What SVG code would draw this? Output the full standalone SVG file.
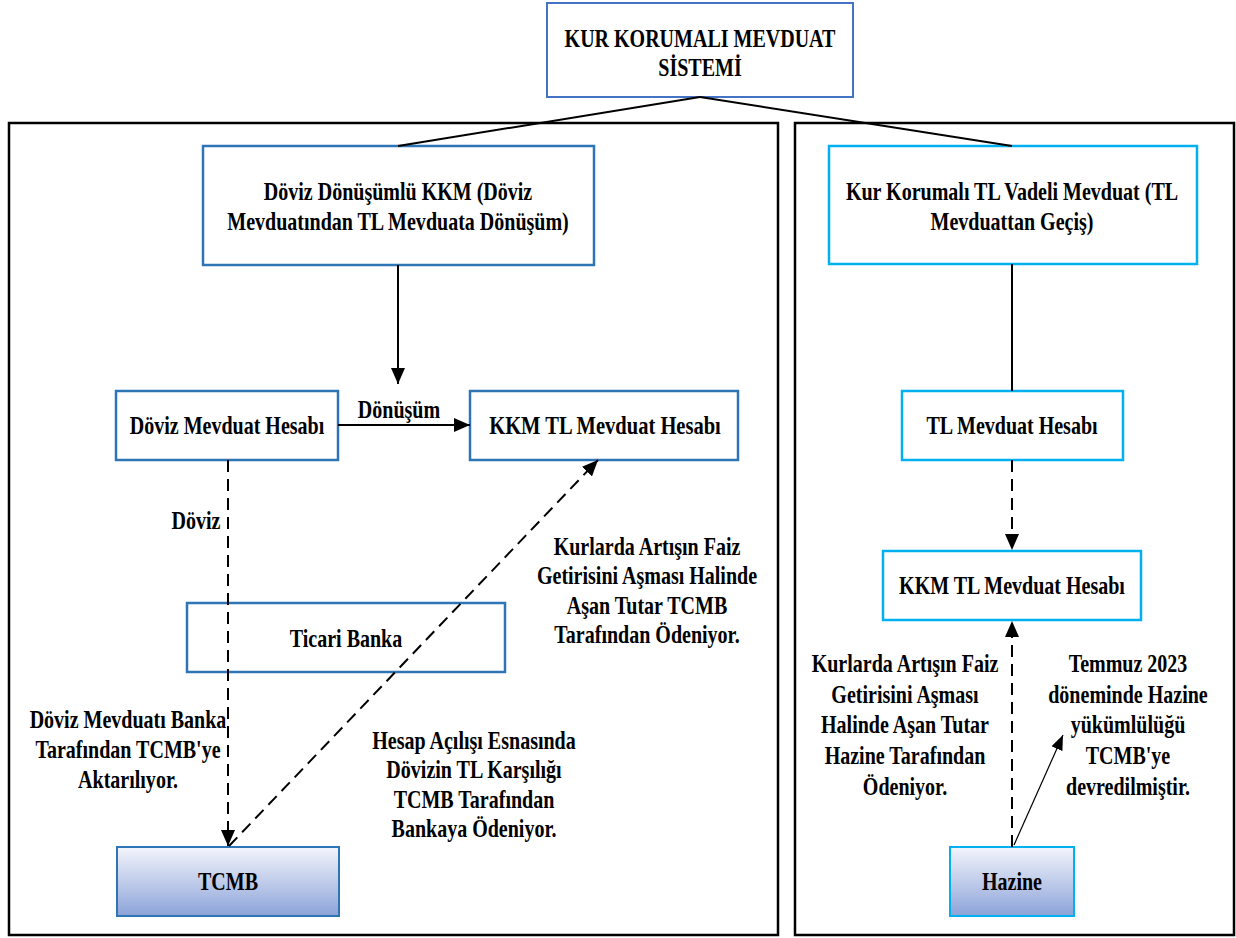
<svg xmlns="http://www.w3.org/2000/svg" width="1236" height="938" viewBox="0 0 1236 938">
<style>
.t{font-family:"Liberation Serif","Times New Roman",serif;font-weight:bold;font-size:26px;text-anchor:middle;fill:#000}
.frame{fill:none;stroke:#000;stroke-width:2.5}
.bb{fill:#fff;stroke:#2E75B6;stroke-width:2.5}
.bn{fill:none;stroke:#2E75B6;stroke-width:2.5}
.bt{fill:#fff;stroke:#4472C4;stroke-width:2}
.bc{fill:#fff;stroke:#00B0F0;stroke-width:2.5}
.gb{fill:url(#g);stroke:#2E75B6;stroke-width:2}
.gc{fill:url(#g);stroke:#00B0F0;stroke-width:2}
.ln{fill:none;stroke:#000;stroke-width:2}
.ds{fill:none;stroke:#000;stroke-width:2;stroke-dasharray:12 7}
.thin{fill:none;stroke:#000;stroke-width:1.2}
</style>
<defs>
<linearGradient id="g" x1="0" y1="0" x2="0" y2="1">
<stop offset="0" stop-color="#F4F5FC"/>
<stop offset="1" stop-color="#8CA3D8"/>
</linearGradient>
<marker id="ah" markerUnits="userSpaceOnUse" markerWidth="17" markerHeight="14" refX="16" refY="7" orient="auto">
<path d="M0,0 L16,7 L0,14 Z" fill="#000"/>
</marker>
<marker id="ahs" markerUnits="userSpaceOnUse" markerWidth="16" markerHeight="12" refX="15" refY="6" orient="auto">
<path d="M0,0 L15,6 L0,12 Z" fill="#000"/>
</marker>
</defs>
<rect width="1236" height="938" fill="#fff"/>
<g id="frames">
<rect class="frame" x="9" y="123" width="769" height="812"/>
<rect class="frame" x="795" y="123" width="439" height="812"/>
</g>
<g id="title">
<rect class="bt" x="547" y="3" width="306" height="94"/>
<text class="t" transform="translate(700,0) scale(0.77,1)" x="0" y="47">KUR KORUMALI MEVDUAT<tspan x="0" dy="29">SİSTEMİ</tspan></text>
</g>
<g id="doviz-donusumlu">
<rect class="bb" x="203" y="146" width="391" height="119"/>
<text class="t" transform="translate(398,0) scale(0.77,1)" x="0" y="200">Döviz Dönüşümlü KKM (Döviz<tspan x="0" dy="30">Mevduatından TL Mevduata Dönüşüm)</tspan></text>
</g>
<g id="kur-korumali-tl">
<rect class="bc" x="829" y="146" width="368" height="118"/>
<text class="t" transform="translate(1012,0) scale(0.77,1)" x="0" y="200">Kur Korumalı TL Vadeli Mevduat (TL<tspan x="0" dy="30">Mevduattan Geçiş)</tspan></text>
</g>
<g id="doviz-mevduat-hesabi">
<rect class="bb" x="116" y="391" width="222" height="69"/>
<text class="t" transform="translate(227,0) scale(0.77,1)" x="0" y="434">Döviz Mevduat Hesabı</text>
</g>
<g id="kkm-tl-left">
<rect class="bb" x="470" y="391" width="268" height="69"/>
<text class="t" transform="translate(605,0) scale(0.79,1)" x="0" y="434">KKM TL Mevduat Hesabı</text>
</g>
<g id="ticari-banka">
<rect class="bn" x="187" y="603" width="318" height="69"/>
<text class="t" transform="translate(346,0) scale(0.77,1)" x="0" y="647">Ticari Banka</text>
</g>
<g id="tcmb">
<rect class="gb" x="117" y="847" width="222" height="69"/>
<text class="t" transform="translate(228,0) scale(0.77,1)" x="0" y="890">TCMB</text>
</g>
<g id="note-doviz-aktarim">
<text class="t" transform="translate(128,0) scale(0.77,1)" x="0" y="728">Döviz Mevduatı Banka<tspan x="0" dy="30">Tarafından TCMB'ye</tspan><tspan x="0" dy="30">Aktarılıyor.</tspan></text>
</g>
<g id="note-hesap-acilisi">
<text class="t" transform="translate(474,0) scale(0.77,1)" x="0" y="749">Hesap Açılışı Esnasında<tspan x="0" dy="29.5">Dövizin TL Karşılığı</tspan><tspan x="0" dy="29.5">TCMB Tarafından</tspan><tspan x="0" dy="29.5">Bankaya Ödeniyor.</tspan></text>
</g>
<g id="note-kurlarda-tcmb">
<text class="t" transform="translate(647,0) scale(0.77,1)" x="0" y="555">Kurlarda Artışın Faiz<tspan x="0" dy="29.5">Getirisini Aşması Halinde</tspan><tspan x="0" dy="29.5">Aşan Tutar TCMB</tspan><tspan x="0" dy="29.5">Tarafından Ödeniyor.</tspan></text>
</g>
<g id="tl-mevduat-hesabi">
<rect class="bc" x="902" y="391" width="221" height="69"/>
<text class="t" transform="translate(1012,0) scale(0.77,1)" x="0" y="434">TL Mevduat Hesabı</text>
</g>
<g id="kkm-tl-right">
<rect class="bc" x="883" y="551" width="258" height="69"/>
<text class="t" transform="translate(1012,0) scale(0.77,1)" x="0" y="594">KKM TL Mevduat Hesabı</text>
</g>
<g id="hazine">
<rect class="gc" x="950" y="847" width="124" height="69"/>
<text class="t" transform="translate(1012,0) scale(0.77,1)" x="0" y="890">Hazine</text>
</g>
<g id="note-kurlarda-hazine">
<text class="t" transform="translate(905,0) scale(0.77,1)" x="0" y="672">Kurlarda Artışın Faiz<tspan x="0" dy="30.7">Getirisini Aşması</tspan><tspan x="0" dy="30.7">Halinde Aşan Tutar</tspan><tspan x="0" dy="30.7">Hazine Tarafından</tspan><tspan x="0" dy="30.7">Ödeniyor.</tspan></text>
</g>
<g id="note-temmuz">
<text class="t" transform="translate(1128,0) scale(0.77,1)" x="0" y="672">Temmuz 2023<tspan x="0" dy="30.7">döneminde Hazine</tspan><tspan x="0" dy="30.7">yükümlülüğü</tspan><tspan x="0" dy="30.7">TCMB'ye</tspan><tspan x="0" dy="30.7">devredilmiştir.</tspan></text>
</g>
<g id="connectors">
<line class="ln" x1="700" y1="97" x2="398" y2="146"/>
<line class="ln" x1="700" y1="97" x2="1012" y2="146"/>
<line class="ln" x1="398" y1="265" x2="398" y2="384" marker-end="url(#ah)"/>
<line class="ln" x1="338" y1="425" x2="470" y2="425" marker-end="url(#ah)"/>
<line class="ds" x1="228" y1="460" x2="228" y2="846" marker-end="url(#ah)"/>
<line class="ds" x1="229" y1="846" x2="598" y2="460" marker-end="url(#ah)"/>
<line class="ln" x1="1012" y1="264" x2="1012" y2="391"/>
<line class="ds" x1="1012" y1="460" x2="1012" y2="550" marker-end="url(#ah)"/>
<line class="ds" x1="1012" y1="847" x2="1012" y2="621" marker-end="url(#ah)"/>
<line class="thin" x1="1014" y1="845" x2="1063" y2="735" marker-end="url(#ahs)"/>
<text class="t" transform="translate(399,0) scale(0.77,1)" x="0" y="418">Dönüşüm</text>
<text class="t" transform="translate(196,0) scale(0.77,1)" x="0" y="529">Döviz</text>
</g>
</svg>
